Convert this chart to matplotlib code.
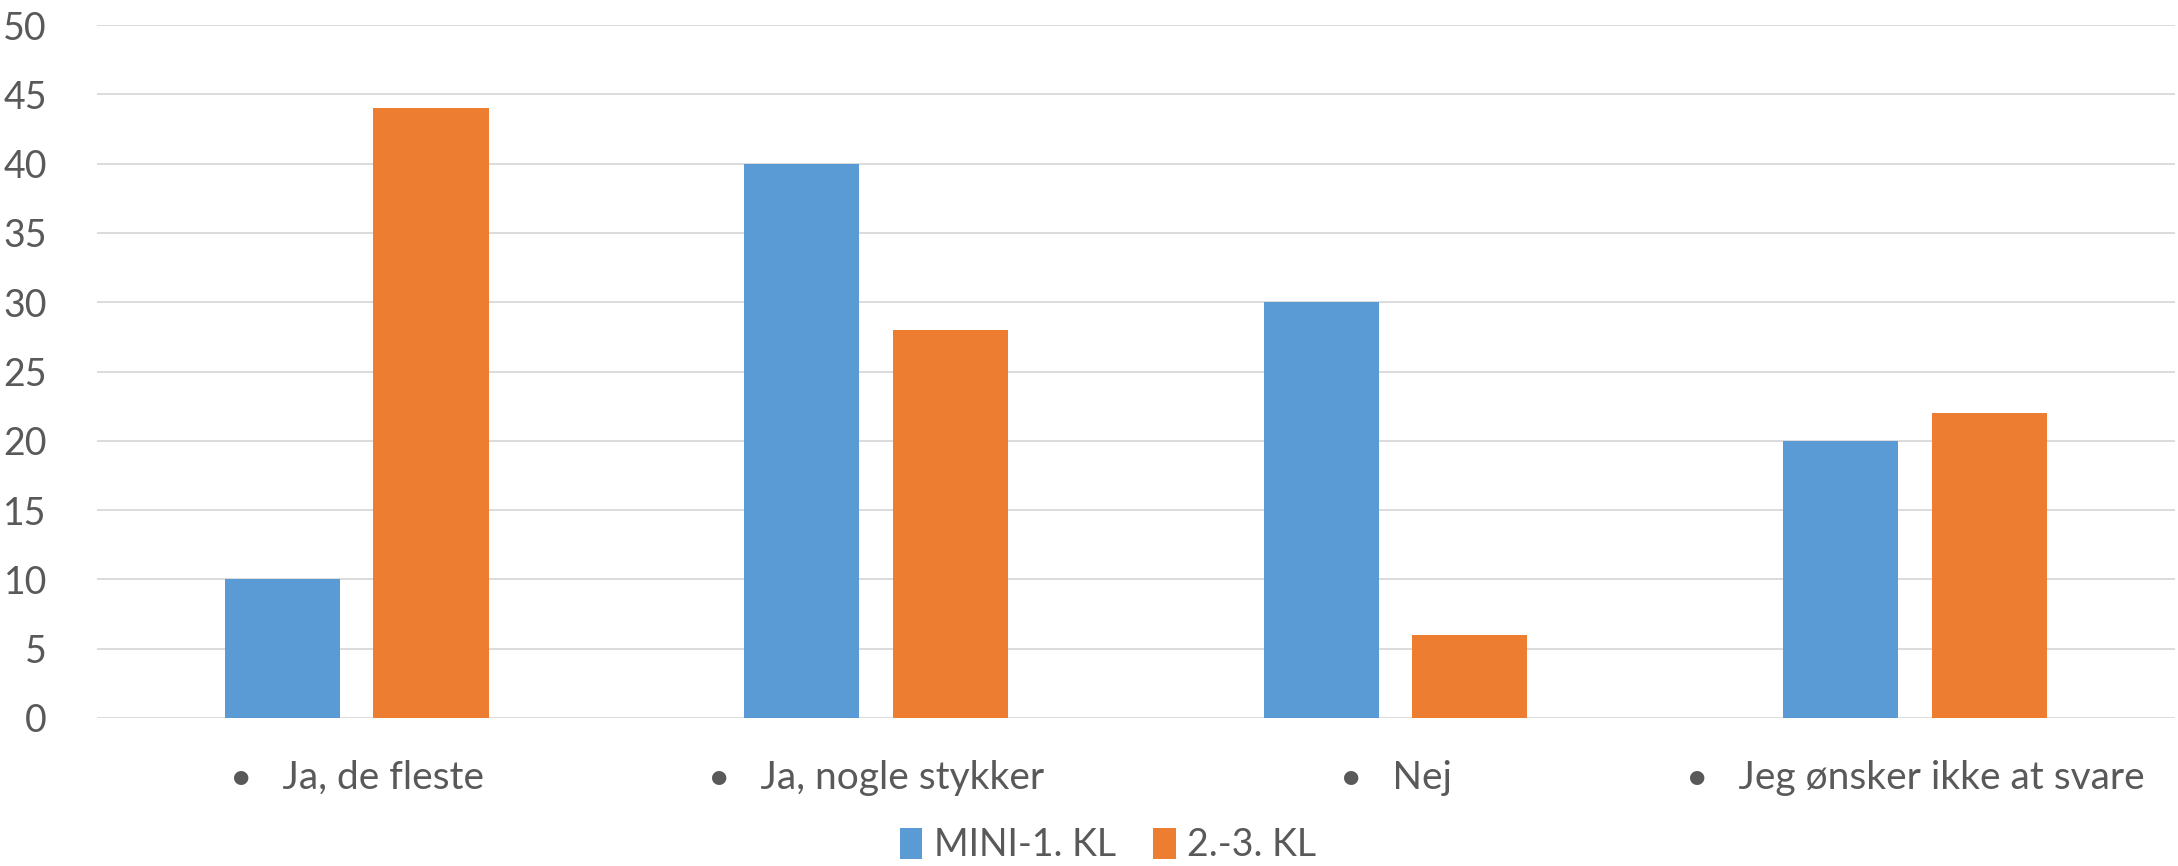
import matplotlib.pyplot as plt
import numpy as np

# Data
categories = ['Ja, de fleste', 'Ja, nogle stykker', 'Nej', 'Jeg ønsker ikke at svare']
series_names = ['MINI-1. KL', '2.-3. KL']
mini_values = [10, 40, 30, 20]
kl23_values = [44, 28, 6, 22]

blue = '#5B9BD5'
orange = '#ED7D31'
grey = '#595959'

plt.rcParams['font.family'] = ['Lato', 'DejaVu Sans']

fig = plt.figure(figsize=(21.78, 8.66), dpi=100)
ax = fig.add_axes([0.0445, 0.171, 0.954, 0.800])

x = np.arange(len(categories))
width = 0.222
offset = 0.143
ax.bar(x - offset, mini_values, width, color=blue, label=series_names[0], zorder=3)
ax.bar(x + offset, kl23_values, width, color=orange, label=series_names[1], zorder=3)

# Axis styling, Excel look
ax.set_xlim(-0.5, len(categories) - 0.5)
ax.set_ylim(0, 50)
ax.set_yticks(np.arange(0, 51, 5))
ax.yaxis.grid(True, color='#d9d9d9', linewidth=1.3, zorder=0)
ax.set_axisbelow(True)
for s in ax.spines.values():
    s.set_visible(False)
ax.tick_params(axis='both', length=0, labelsize=27, colors=grey)
ax.tick_params(axis='y', pad=36)
ax.tick_params(axis='x', pad=30, labelsize=28)
ax.set_xticks(x)
ax.set_xticklabels(['•   ' + c for c in categories])

# Legend at the bottom
fig.legend(loc='center', bbox_to_anchor=(1108 / 2178, 0.024), ncol=2, frameon=False,
           fontsize=27, labelcolor=grey, handlelength=0.6, handleheight=0.9,
           handletextpad=0.3, columnspacing=1.0)

fig.savefig('out.png', dpi=100)
